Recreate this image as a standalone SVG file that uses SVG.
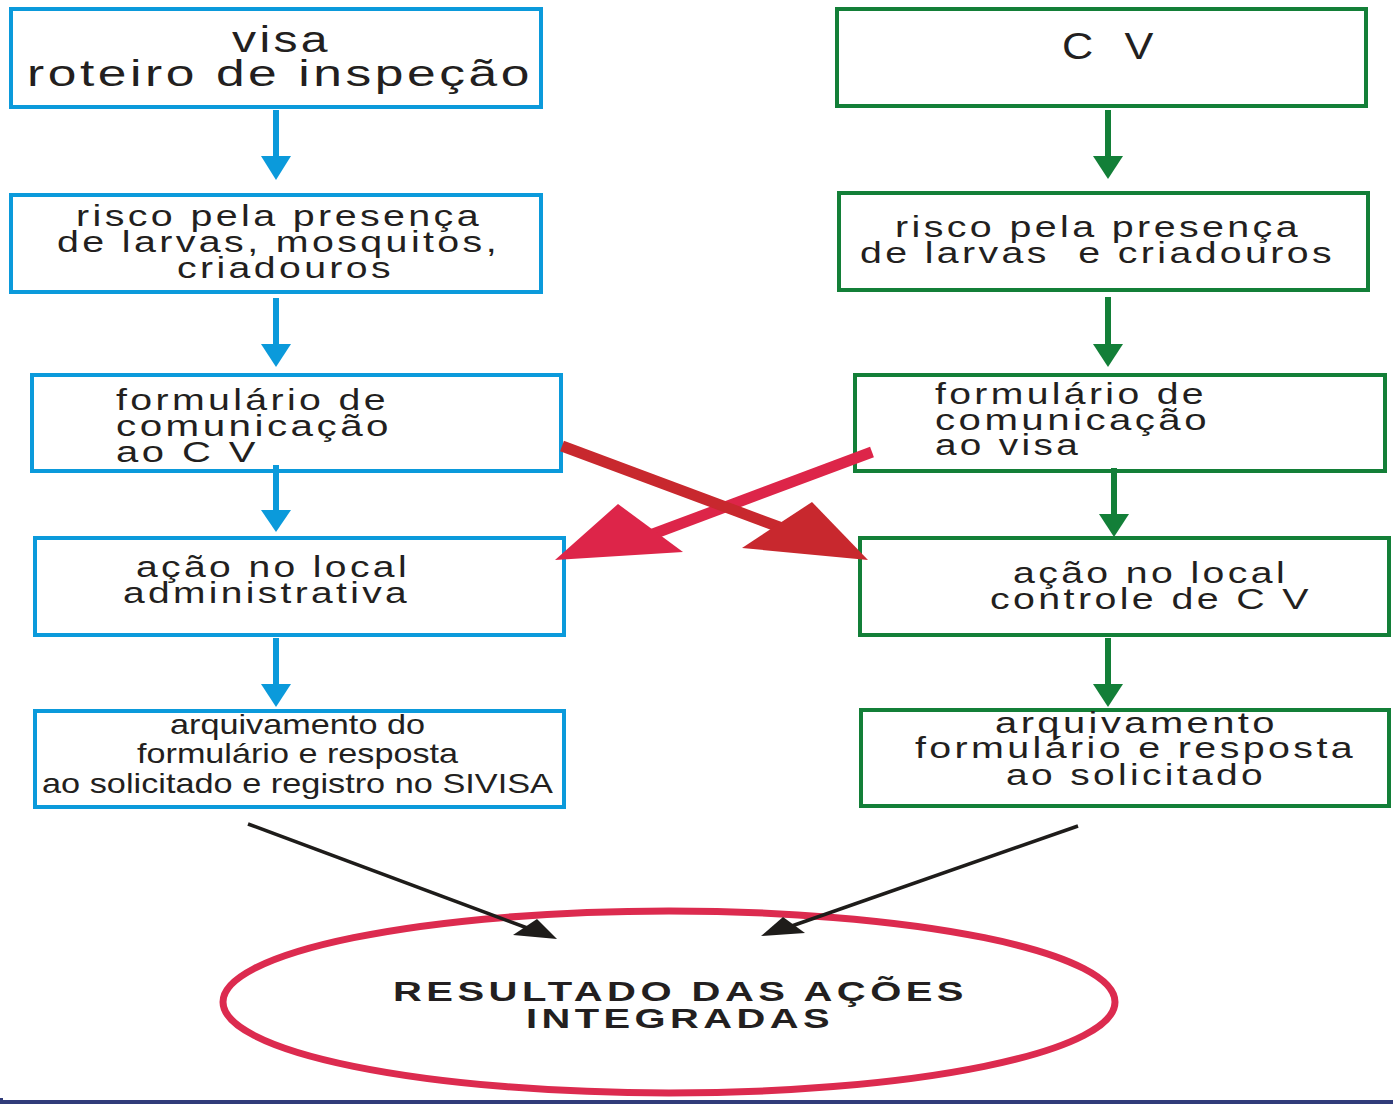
<svg xmlns="http://www.w3.org/2000/svg" width="1393" height="1104" viewBox="0 0 1393 1104">
<style>
.bb{fill:#fff;stroke:#0B9ADB;stroke-width:4}
.gb{fill:#fff;stroke:#137F38;stroke-width:4}
.t{font-family:"Liberation Sans",Arial,sans-serif;fill:#231F20;white-space:pre}
.x{letter-spacing:2.5px}
.s29{font-size:29px}
.s36{font-size:36px}
.bl{stroke:#0B9ADB;stroke-width:6}
.bh{fill:#0B9ADB}
.gl{stroke:#137F38;stroke-width:6}
.gh{fill:#137F38}
.kl{stroke:#1E1C1A;stroke-width:3.5}
.kh{fill:#1E1C1A}
</style>
<rect x="0" y="0" width="1393" height="1104" fill="#fff"/>

<g id="visa">
<rect class="bb" x="11" y="9" width="530" height="98"/>
<text class="t x s36" x="232" y="52" textLength="99" lengthAdjust="spacingAndGlyphs">visa</text>
<text class="t x s36" x="27" y="86" textLength="506" lengthAdjust="spacingAndGlyphs">roteiro de inspeção</text>
</g>
<g id="risco-visa">
<rect class="bb" x="11" y="195" width="530" height="97"/>
<text class="t x s29" x="76" y="226" textLength="406" lengthAdjust="spacingAndGlyphs">risco pela presença</text>
<text class="t x s29" x="57" y="252" textLength="443" lengthAdjust="spacingAndGlyphs">de larvas, mosquitos,</text>
<text class="t x s29" x="177" y="278" textLength="217" lengthAdjust="spacingAndGlyphs">criadouros</text>
</g>
<g id="form-visa">
<rect class="bb" x="32" y="375" width="529" height="96"/>
<text class="t x s29" x="116" y="410" textLength="273" lengthAdjust="spacingAndGlyphs">formulário de</text>
<text class="t x s29" x="116" y="436" textLength="276" lengthAdjust="spacingAndGlyphs">comunicação</text>
<text class="t x s29" x="116" y="462" textLength="143" lengthAdjust="spacingAndGlyphs">ao C V</text>
</g>
<g id="acao-visa">
<rect class="bb" x="35" y="538" width="529" height="97"/>
<text class="t x s29" x="136" y="577" textLength="274" lengthAdjust="spacingAndGlyphs">ação no local</text>
<text class="t x s29" x="123" y="603" textLength="287" lengthAdjust="spacingAndGlyphs">administrativa</text>
</g>
<g id="arquivo-visa">
<rect class="bb" x="35" y="711" width="529" height="96"/>
<text class="t" font-size="28" x="170" y="734" textLength="255" lengthAdjust="spacingAndGlyphs">arquivamento do</text>
<text class="t" font-size="28" x="137" y="763" textLength="321" lengthAdjust="spacingAndGlyphs">formulário e resposta</text>
<text class="t" font-size="28" x="42" y="793" textLength="511" lengthAdjust="spacingAndGlyphs">ao solicitado e registro no SIVISA</text>
</g>

<g id="cv">
<rect class="gb" x="837" y="9" width="529" height="97"/>
<text class="t" font-size="36" style="letter-spacing:8px" x="1062" y="59" textLength="101" lengthAdjust="spacingAndGlyphs">C V</text>
</g>
<g id="risco-cv">
<rect class="gb" x="839" y="193" width="529" height="97"/>
<text class="t x s29" x="895" y="237" textLength="406" lengthAdjust="spacingAndGlyphs">risco pela presença</text>
<text class="t x s29" x="860" y="263" textLength="475" lengthAdjust="spacingAndGlyphs">de larvas  e criadouros</text>
</g>
<g id="form-cv">
<rect class="gb" x="855" y="375" width="530" height="96"/>
<text class="t x s29" x="935" y="404" textLength="272" lengthAdjust="spacingAndGlyphs">formulário de</text>
<text class="t x s29" x="935" y="430" textLength="275" lengthAdjust="spacingAndGlyphs">comunicação</text>
<text class="t x s29" x="935" y="455" textLength="146" lengthAdjust="spacingAndGlyphs">ao visa</text>
</g>
<g id="acao-cv">
<rect class="gb" x="860" y="538" width="529" height="97"/>
<text class="t x s29" x="1013" y="583" textLength="275" lengthAdjust="spacingAndGlyphs">ação no local</text>
<text class="t x s29" x="990" y="609" textLength="322" lengthAdjust="spacingAndGlyphs">controle de C V</text>
</g>
<g id="arquivo-cv">
<rect class="gb" x="861" y="710" width="528" height="96"/>
<text class="t x s29" x="995" y="733" textLength="283" lengthAdjust="spacingAndGlyphs">arquivamento</text>
<text class="t x s29" x="915" y="758" textLength="441" lengthAdjust="spacingAndGlyphs">formulário e resposta</text>
<text class="t x s29" x="1006" y="785" textLength="260" lengthAdjust="spacingAndGlyphs">ao solicitado</text>
</g>

<g id="resultado">
<ellipse cx="669" cy="1002" rx="446" ry="91" fill="none" stroke="#DC2B4F" stroke-width="7"/>
<text class="t" font-size="27" font-weight="bold" style="letter-spacing:3px" x="393" y="1001" textLength="575" lengthAdjust="spacingAndGlyphs">RESULTADO DAS AÇÕES</text>
<text class="t" font-size="27" font-weight="bold" style="letter-spacing:3px" x="526" y="1028" textLength="308" lengthAdjust="spacingAndGlyphs">INTEGRADAS</text>
</g>

<g id="connectors">
<line class="bl" x1="276" y1="110" x2="276" y2="160"/><polygon class="bh" points="261,156 291,156 276,180"/>
<line class="bl" x1="276" y1="298" x2="276" y2="348"/><polygon class="bh" points="261,344 291,344 276,367"/>
<line class="bl" x1="276" y1="465" x2="276" y2="514"/><polygon class="bh" points="261,510 291,510 276,532"/>
<line class="bl" x1="276" y1="638" x2="276" y2="688"/><polygon class="bh" points="261,684 291,684 276,707"/>

<line class="gl" x1="1108" y1="110" x2="1108" y2="160"/><polygon class="gh" points="1093,156 1123,156 1108,179"/>
<line class="gl" x1="1108" y1="297" x2="1108" y2="348"/><polygon class="gh" points="1093,344 1123,344 1108,367"/>
<line class="gl" x1="1114" y1="468" x2="1114" y2="518"/><polygon class="gh" points="1099,514 1129,514 1114,537"/>
<line class="gl" x1="1108" y1="638" x2="1108" y2="688"/><polygon class="gh" points="1093,684 1123,684 1108,707"/>

<line x1="872" y1="452" x2="645" y2="537" stroke="#DD2549" stroke-width="11"/>
<polygon points="555,560 618,504 683,552" fill="#DD2549"/>
<line x1="562" y1="446" x2="790" y2="531" stroke="#C8282E" stroke-width="11"/>
<polygon points="868,560 812,502 742,548" fill="#C8282E"/>

<line class="kl" x1="248" y1="824" x2="530" y2="929"/>
<polygon class="kh" points="557,939 513,935 537,919"/>
<line class="kl" x1="1078" y1="826" x2="786" y2="928"/>
<polygon class="kh" points="761,936 783,917 805,933"/>
</g>
<rect x="3" y="1100" width="1390" height="4" fill="#313C7A"/>
<rect x="0" y="1098" width="3" height="6" fill="#313C7A"/>
</svg>
